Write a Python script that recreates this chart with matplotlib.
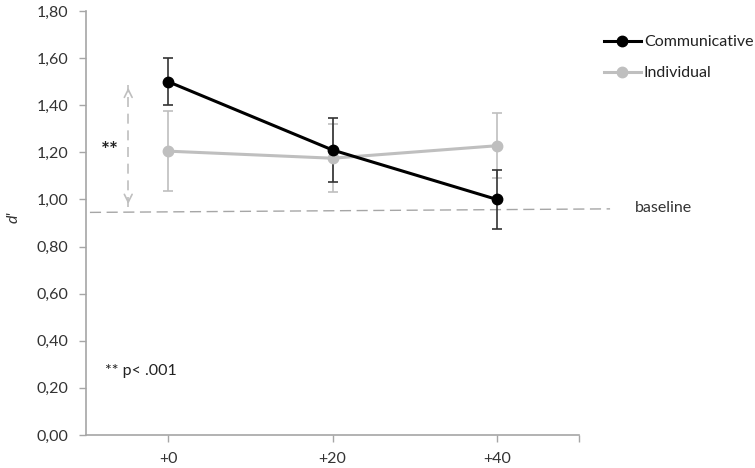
import numpy as np
import matplotlib
matplotlib.use('Agg')
import matplotlib.pyplot as plt
from matplotlib.ticker import FuncFormatter

plt.rcParams['font.family'] = ['Lato', 'DejaVu Sans']

# data
categories = ['+0', '+20', '+40']
comm = [1.50, 1.21, 1.00]
comm_err = [0.10, 0.135, 0.125]
indiv = [1.205, 1.175, 1.228]
indiv_err = [0.17, 0.145, 0.137]
baseline = [0.945, 0.96]   # dashed line is slightly tilted
sig_range = [0.969, 1.486]

black = '#000000'
grey = '#BFBFBF'
axis_grey = '#A6A6A6'

fig = plt.figure(figsize=(7.55, 4.68), dpi=100)
ax = fig.add_axes([86/755, 33/468, 493/755, 424/468])

x = np.arange(len(categories))

# error bars first, then lines
ax.errorbar(x, indiv, yerr=indiv_err, fmt='none', ecolor=grey, elinewidth=1.2,
            capsize=3.5, capthick=1.2, zorder=2)
ax.errorbar(x, comm, yerr=comm_err, fmt='none', ecolor='#333333', elinewidth=1.2,
            capsize=3.5, capthick=1.2, zorder=3)
ax.plot(x, indiv, color=grey, lw=2.2, marker='o', ms=7.5, label='Individual', zorder=4)
ax.plot(x, comm, color=black, lw=2.2, marker='o', ms=7.5, label='Communicative', zorder=5)

# baseline
ax.plot([-0.476, 2.689], baseline, color='#A6A6A6', lw=1, ls=(0, (8, 4)),
        clip_on=False, zorder=1)
fig.text(635/755, 1 - 208/468, 'baseline', fontsize=11.5, color='#333333', va='center')

# significance arrow
ax_x = -0.243
ax.plot([ax_x, ax_x], sig_range, color=grey, lw=1.2, ls=(0, (6, 4)), zorder=1)
ax.annotate('', xy=(ax_x, sig_range[1]), xytext=(ax_x, sig_range[1] - 0.04),
            arrowprops=dict(arrowstyle='->', color=grey, lw=1.2, mutation_scale=14))
ax.annotate('', xy=(ax_x, sig_range[0]), xytext=(ax_x, sig_range[0] + 0.04),
            arrowprops=dict(arrowstyle='->', color=grey, lw=1.2, mutation_scale=14))
ax.text(-0.354, 1.205, '**', fontsize=15, fontweight='bold', ha='center', va='center',
        color='#222222')
ax.text(-0.384, 0.273, '** p< .001', fontsize=11.5, ha='left', va='center', color='#222222')

ax.set_xlim(-0.5, 2.5)
ax.set_ylim(0, 1.8)
ax.set_yticks(np.arange(0, 1.81, 0.2))
ax.yaxis.set_major_formatter(FuncFormatter(lambda v, p: ('%.2f' % v).replace('.', ',')))
ax.set_xticks([0, 1, 2, 2.5])
ax.set_xticklabels(categories + [''])

for s in ['top', 'right']:
    ax.spines[s].set_visible(False)
for s in ['left', 'bottom']:
    ax.spines[s].set_color(axis_grey)
    ax.spines[s].set_linewidth(1.2)
ax.tick_params(axis='both', colors=axis_grey, labelcolor='#333333', labelsize=11.5,
               length=5, width=1)
ax.tick_params(axis='x', pad=7)
ax.tick_params(axis='y', pad=8)

fig.text(14/755, 1 - 217/468, "d'", fontsize=11.5, style='italic', rotation=90,
         ha='center', va='center', color='#333333')

h, l = ax.get_legend_handles_labels()
leg = ax.legend(h[::-1], l[::-1], loc='upper left', bbox_to_anchor=(596/755, 1 - 27/468),
                bbox_transform=fig.transFigure, frameon=False, fontsize=11.5,
                handlelength=2.3, handletextpad=0.2, labelspacing=1.05, borderpad=0)
for t in leg.get_texts():
    t.set_color('#222222')

fig.savefig('out.png', dpi=100)
